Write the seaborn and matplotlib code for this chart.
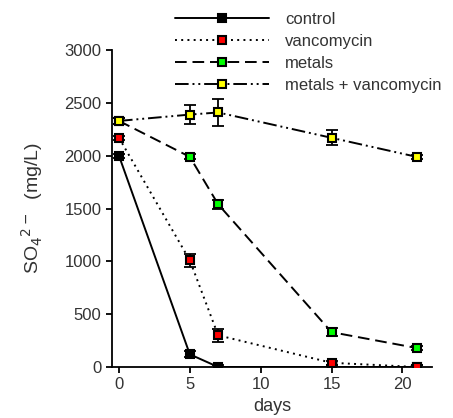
import matplotlib
matplotlib.use("Agg")
import matplotlib.pyplot as plt
import seaborn as sns
import pandas as pd

days = [0, 5, 7, 15, 21]
control = [2000, 120, 0, 0, 0]
control_err = [20, 30, 15, 15, 15]
vancomycin = [2170, 1010, 300, 40, 0]
vancomycin_err = [20, 60, 60, 20, 15]
metals = [2330, 1990, 1540, 330, 180]
metals_err = [25, 25, 40, 40, 20]
metals_vanco = [2330, 2390, 2410, 2170, 1990]
metals_vanco_err = [25, 90, 130, 70, 20]

labels = ["control", "vancomycin", "metals", "metals + vancomycin"]
fills = ["black", "red", "#00ff00", "yellow"]
dashes = [(None, None), (1, 2.2), (6, 3), (7, 2, 1, 2, 1, 2)]

sns.set_style("ticks")
plt.rcParams["font.family"] = ["Liberation Sans", "DejaVu Sans"]
txt = "#333333"

fig = plt.figure(figsize=(4.53, 4.18), dpi=100)
ax = fig.add_axes([0.247, 0.122, 0.707, 0.758])

series = [control, vancomycin, metals, metals_vanco]
errs = [control_err, vancomycin_err, metals_err, metals_vanco_err]

handles = []
for name, vals, err, fc, ds in zip(labels, series, errs, fills, dashes):
    df = pd.DataFrame({"days": days, "so4": vals})
    ax.errorbar(days, vals, yerr=err, fmt="none", ecolor="black",
                elinewidth=1.3, capsize=4.5, capthick=1.3, zorder=3)
    sns.lineplot(data=df, x="days", y="so4", ax=ax, color="black",
                 linewidth=1.4, marker="s", markersize=6,
                 markerfacecolor=fc, markeredgecolor="black",
                 markeredgewidth=1.5, zorder=4, label=name)
    line = ax.lines[-1]
    if ds[0] is not None:
        line.set_dashes(ds)
    handles.append(line)

ax.set_xlim(-0.5, 22.1)
ax.set_ylim(0, 3000)
ax.set_xticks([0, 5, 10, 15, 20])
ax.set_yticks([0, 500, 1000, 1500, 2000, 2500, 3000])
ax.tick_params(axis="both", direction="out", length=4, width=1.3,
               labelsize=12, labelcolor=txt, colors="black")
for s in ["left", "bottom"]:
    ax.spines[s].set_linewidth(1.3)
    ax.spines[s].set_color("black")
sns.despine(ax=ax)

ax.set_xlabel("days", fontsize=13, color=txt, labelpad=4)
ax.set_ylabel(r"SO$_4$$^{2-}$  (mg/L)", fontsize=14, color=txt, labelpad=14)

leg = fig.legend(handles=handles, labels=labels, loc="upper left",
                 bbox_to_anchor=(0.372, 0.988), frameon=False, fontsize=12,
                 handlelength=5.6, numpoints=1, labelspacing=0.42,
                 handletextpad=1.0, borderaxespad=0)
for t in leg.get_texts():
    t.set_color(txt)
if ax.get_legend():
    ax.get_legend().remove()

fig.savefig("out.png", dpi=100)
